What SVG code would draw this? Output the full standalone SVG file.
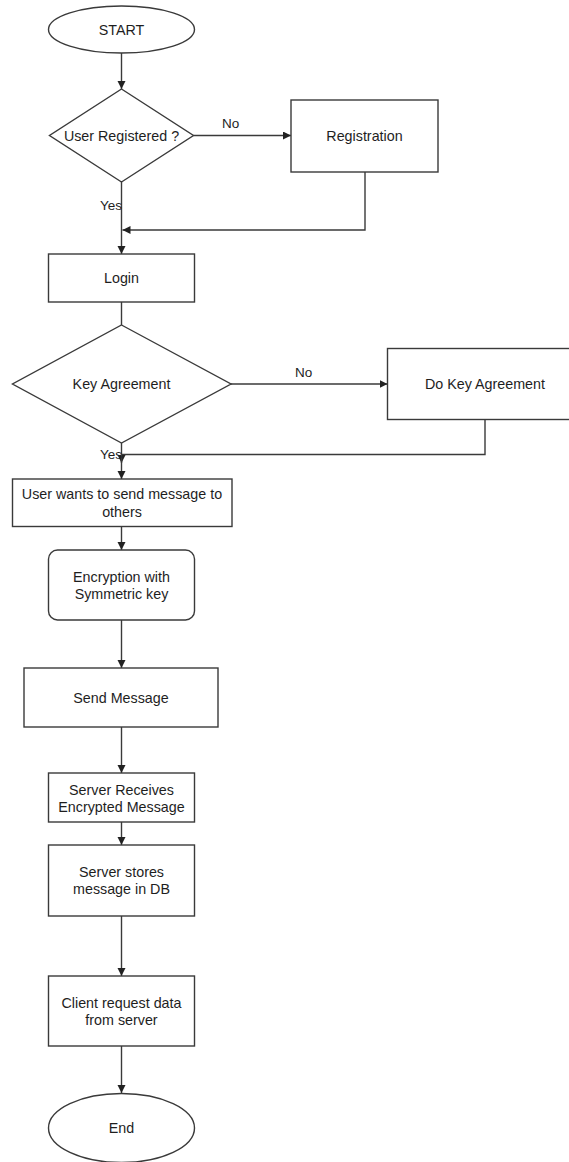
<svg xmlns="http://www.w3.org/2000/svg" width="569" height="1162" viewBox="0 0 569 1162">
<defs>
<marker id="arr" markerUnits="userSpaceOnUse" markerWidth="9" markerHeight="9" refX="8" refY="4" orient="auto">
<path d="M0,0 L8,4 L0,8 Z" fill="#222"/>
</marker>
<style>
.s{fill:#fff;stroke:#3a3a3a;stroke-width:1.4}
.c{fill:none;stroke:#3a3a3a;stroke-width:1.4}
.t{font-family:"Liberation Sans",Arial,sans-serif;font-size:14.3px;fill:#1e1e1e;text-anchor:middle;dominant-baseline:central}
.l{font-family:"Liberation Sans",Arial,sans-serif;font-size:13.5px;fill:#1e1e1e;dominant-baseline:central}
</style>
</defs>
<rect width="569" height="1162" fill="#fff"/>
<g id="connectors">
<path class="c" d="M121.5,53 V89" marker-end="url(#arr)"/>
<path class="c" d="M193.5,135.5 H291" marker-end="url(#arr)"/>
<path class="c" d="M365,172 V230 H122.5" marker-end="url(#arr)"/>
<path class="c" d="M121.5,182 V254" marker-end="url(#arr)"/>
<path class="c" d="M121.5,302 V325"/>
<path class="c" d="M231,384 H387.5" marker-end="url(#arr)"/>
<path class="c" d="M485,419.5 V454.5 H121.5 V463" marker-end="url(#arr)"/>
<path class="c" d="M121.5,443 V479" marker-end="url(#arr)"/>
<path class="c" d="M121.5,526.5 V550" marker-end="url(#arr)"/>
<path class="c" d="M121.5,620 V668" marker-end="url(#arr)"/>
<path class="c" d="M121.5,727 V773" marker-end="url(#arr)"/>
<path class="c" d="M121.5,822 V845" marker-end="url(#arr)"/>
<path class="c" d="M121.5,916 V976" marker-end="url(#arr)"/>
<path class="c" d="M121.5,1046 V1093" marker-end="url(#arr)"/>
<text class="l" x="222" y="123">No</text>
<text class="l" x="122" y="205" text-anchor="end">Yes</text>
<text class="l" x="295" y="372">No</text>
<text class="l" x="122" y="454" text-anchor="end">Yes</text>
</g>
<g id="start">
<ellipse class="s" cx="121.5" cy="29.5" rx="73" ry="23.5"/>
<text class="t" x="121.5" y="29.5">START</text>
</g>
<g id="user-registered">
<polygon class="s" points="121.5,89 193.5,135.5 121.5,182 49.5,135.5"/>
<text class="t" x="121.5" y="135.5">User Registered ?</text>
</g>
<g id="registration">
<rect class="s" x="291" y="100" width="147" height="72"/>
<text class="t" x="364.5" y="136">Registration</text>
</g>
<g id="login">
<rect class="s" x="48.5" y="254" width="146" height="48"/>
<text class="t" x="121.5" y="278">Login</text>
</g>
<g id="key-agreement">
<polygon class="s" points="121.5,325 231,384 121.5,443 12.5,384"/>
<text class="t" x="121.5" y="384">Key Agreement</text>
</g>
<g id="do-key-agreement">
<rect class="s" x="387.5" y="348.5" width="185" height="71"/>
<text class="t" x="485" y="384">Do Key Agreement</text>
</g>
<g id="user-wants">
<rect class="s" x="12.5" y="479" width="219.5" height="47.5"/>
<text class="t" x="122" y="494">User wants to send message to</text>
<text class="t" x="122" y="511.5">others</text>
</g>
<g id="encryption">
<rect class="s" x="48.5" y="550" width="146" height="70" rx="9"/>
<text class="t" x="121.5" y="576.5">Encryption with</text>
<text class="t" x="121.5" y="594">Symmetric key</text>
</g>
<g id="send-message">
<rect class="s" x="24" y="668" width="194" height="59"/>
<text class="t" x="121" y="697.5">Send Message</text>
</g>
<g id="server-receives">
<rect class="s" x="48.5" y="773" width="146" height="49"/>
<text class="t" x="121.5" y="789.5">Server Receives</text>
<text class="t" x="121.5" y="807">Encrypted Message</text>
</g>
<g id="server-stores">
<rect class="s" x="48.5" y="845" width="146" height="71"/>
<text class="t" x="121.5" y="871.5">Server stores</text>
<text class="t" x="121.5" y="889">message in DB</text>
</g>
<g id="client-request">
<rect class="s" x="48.5" y="976" width="146" height="70"/>
<text class="t" x="121.5" y="1002.5">Client request data</text>
<text class="t" x="121.5" y="1019.5">from server</text>
</g>
<g id="end">
<ellipse class="s" cx="121.5" cy="1128" rx="73" ry="34.5"/>
<text class="t" x="121.5" y="1128">End</text>
</g>
</svg>
